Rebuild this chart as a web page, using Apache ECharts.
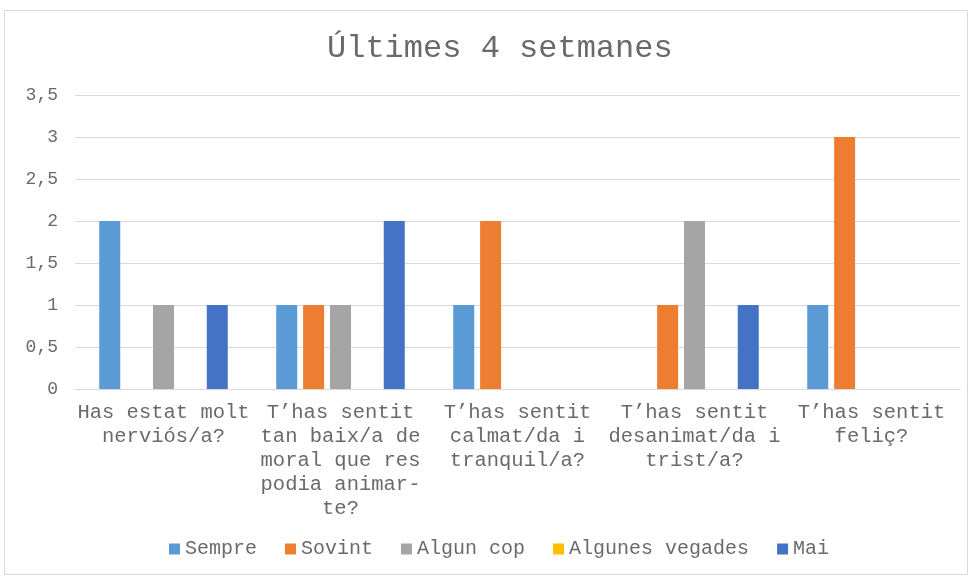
<!DOCTYPE html>
<html>
<head>
<meta charset="utf-8">
<script src="https://cdn.jsdelivr.net/npm/echarts@6/dist/echarts.min.js"></script>
<style>
html, body { margin: 0; padding: 0; background: #fff; }
#chart { width: 972px; height: 576px; }
</style>
</head>
<body>
<div id="chart"></div>
<script>
var categories = [
    'Has estat molt\nnerviós/a?',
    'T’has sentit\ntan baix/a de\nmoral que res\npodia animar-\nte?',
    'T’has sentit\ncalmat/da i\ntranquil/a?',
    'T’has sentit\ndesanimat/da i\ntrist/a?',
    'T’has sentit\nfeliç?'
];
var sempre = [2, 1, 1, 0, 1];
var sovint = [0, 1, 2, 1, 3];
var algunCop = [1, 1, 0, 2, 0];
var algunesVegades = [0, 0, 0, 0, 0];
var mai = [1, 2, 0, 1, 0];

var chart = echarts.init(document.getElementById('chart'));
var font = 'Liberation Mono';
var txt = '#6a6a6a';

function bar(name, data, color) {
    return {
        name: name,
        type: 'bar',
        data: data,
        barWidth: 21,
        barGap: '28%',
        barCategoryGap: '27%',
        itemStyle: { color: color }
    };
}

var option = {
    backgroundColor: '#fff',
    textStyle: { fontFamily: font },
    graphic: [{
        type: 'rect',
        shape: { x: 4.5, y: 10.5, width: 963, height: 564 },
        style: { fill: 'none', stroke: '#d9d9d9', lineWidth: 1 }
    }],
    title: {
        text: 'Últimes 4 setmanes',
        left: 322,
        top: 28,
        textStyle: { fontFamily: font, fontSize: 32, fontWeight: 'normal', color: txt }
    },
    legend: {
        bottom: 12,
        left: 164,
        icon: 'rect',
        itemWidth: 11,
        itemHeight: 11,
        itemGap: 28,
        textStyle: { fontFamily: font, fontSize: 20, color: txt },
        data: ['Sempre', 'Sovint', 'Algun cop', 'Algunes vegades', 'Mai']
    },
    grid: { left: 75, right: 12, top: 95, bottom: 187, containLabel: false },
    xAxis: {
        type: 'category',
        data: categories,
        axisTick: { show: false },
        axisLine: { lineStyle: { color: '#d9d9d9' } },
        axisLabel: { fontFamily: font, fontSize: 20.5, color: txt, lineHeight: 24, margin: 12, interval: 0 }
    },
    yAxis: {
        type: 'value',
        min: 0,
        max: 3.5,
        interval: 0.5,
        axisLine: { show: false },
        axisTick: { show: false },
        splitLine: { lineStyle: { color: '#d9d9d9' } },
        axisLabel: {
            fontFamily: font, fontSize: 18, color: txt, margin: 17,
            formatter: function (v) { return String(v).replace('.', ','); }
        }
    },
    series: [
        bar('Sempre', sempre, '#5B9BD5'),
        bar('Sovint', sovint, '#ED7D31'),
        bar('Algun cop', algunCop, '#A5A5A5'),
        bar('Algunes vegades', algunesVegades, '#FFC000'),
        bar('Mai', mai, '#4472C4')
    ]
};
chart.setOption(option);
</script>
</body>
</html>
